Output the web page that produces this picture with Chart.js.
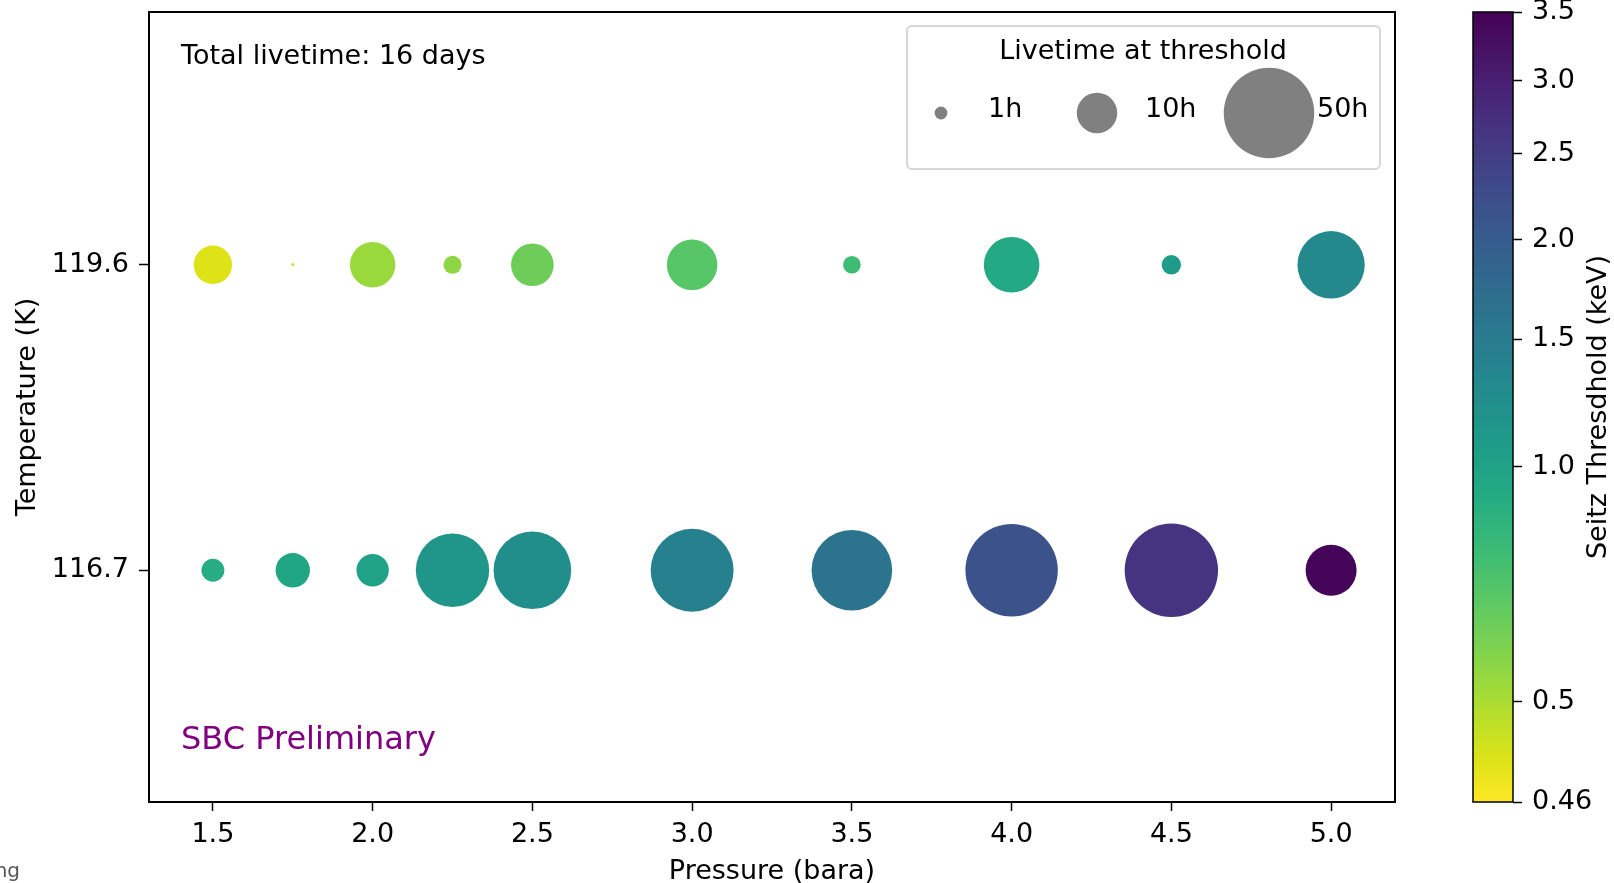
<!DOCTYPE html>
<html>
<head>
<meta charset="utf-8">
<script src="https://cdn.jsdelivr.net/npm/chart.js@4/dist/chart.umd.min.js"></script>
<style>
  body { margin: 0; background: #fff; }
  #wrap { position: relative; width: 1614px; height: 883px; overflow: hidden; }
  canvas { position: absolute; top: 0; }
</style>
</head>
<body>
<div id="wrap">
  <canvas id="main" width="1614" height="883" style="left:0"></canvas>
  <canvas id="cbar" width="174" height="883" style="left:1440px"></canvas>
</div>
<script>
// data
const pressures = [1.5, 1.75, 2.0, 2.25, 2.5, 3.0, 3.5, 4.0, 4.5, 5.0]
const temps = [119.6, 116.7]
// livetime at threshold (hours)
const lifeHot = [9.0, 0.05, 12.6, 2.0, 11.1, 15.6, 1.9, 18.9, 2.3, 27.7]
const lifeCold = [3.2, 7.2, 6.4, 32.9, 36.8, 42.0, 39.7, 52.1, 53.2, 15.9]
// Seitz threshold (keV)
const thrHot = [0.476, 0.49, 0.54, 0.57, 0.66, 0.73, 0.815, 0.95, 1.08, 1.33]
const thrCold = [0.925, 0.975, 1.0, 1.17, 1.27, 1.44, 1.62, 2.17, 2.66, 3.44]

const xTicks = [1.5, 2.0, 2.5, 3.0, 3.5, 4.0, 4.5, 5.0]
const yTicks = [119.6, 116.7]
const legendHours = [1, 10, 50]
const legendLabels = ['1h', '10h', '50h']

// colour bar: tick values and where they sit on the bar (0 = bottom, 1 = top)
const cbTickValues = [0.46, 0.5, 1.0, 1.5, 2.0, 2.5, 3.0, 3.5]
const cbTickLabels = ['0.46', '0.5', '1.0', '1.5', '2.0', '2.5', '3.0', '3.5']
const cbNormKnots = [0, 0.127, 0.4245, 0.5855, 0.712, 0.8205, 0.913, 1]

Chart.defaults.font.family = "'DejaVu Sans', sans-serif"
Chart.defaults.color = '#000'

const viridisStops = ['#440154','#471365','#482475','#463480','#414487','#3b528b','#355f8d','#2f6c8e','#2a788e','#25848e','#21918c','#1e9c89','#22a884','#2fb47c','#44bf70','#5ec962','#7ad151','#9bd93c','#bddf26','#dfe318','#fde725']

function hexRgb(h) {
  return [parseInt(h.slice(1, 3), 16), parseInt(h.slice(3, 5), 16), parseInt(h.slice(5, 7), 16)]
}
function viridis(t) {
  t = Math.min(1, Math.max(0, t))
  let f = t * (viridisStops.length - 1)
  let i = Math.min(Math.floor(f), viridisStops.length - 2)
  let u = f - i
  let a = hexRgb(viridisStops[i]), b = hexRgb(viridisStops[i + 1])
  let c = a.map((v, k) => Math.round(v + (b[k] - v) * u))
  return `rgb(${c[0]},${c[1]},${c[2]})`
}
// value -> position on bar
function norm(v) {
  if (v <= cbTickValues[0]) return 0
  for (let i = 1; i < cbTickValues.length; i++) {
    if (v <= cbTickValues[i]) {
      let u = (v - cbTickValues[i - 1]) / (cbTickValues[i] - cbTickValues[i - 1])
      return cbNormKnots[i - 1] + u * (cbNormKnots[i] - cbNormKnots[i - 1])
    }
  }
  return 1
}
// reversed viridis: low threshold = yellow
function thrColor(v) { return viridis(1 - norm(v)) }
// marker area proportional to livetime
function radiusFor(h) { return 6.4 * Math.sqrt(h) }

function rowData(temp, life) {
  return pressures.map((p, i) => ({ x: p, y: temp, r: radiusFor(life[i]) }))
}

// no extra room for labels hanging past the ends
function noOverflow(s) { s.paddingTop = 0; s.paddingBottom = 0; s.paddingLeft = 0; s.paddingRight = 0 }

const framePlugin = {
  id: 'frame',
  afterDraw(chart) {
    const { ctx, chartArea: a } = chart
    ctx.save()
    ctx.strokeStyle = '#000'
    ctx.lineWidth = 2
    ctx.strokeRect(a.left, a.top, a.right - a.left, a.bottom - a.top)

    ctx.textBaseline = 'middle'
    ctx.textAlign = 'left'
    ctx.fillStyle = '#000'
    ctx.font = "27px 'DejaVu Sans'"
    ctx.fillText('Total livetime: 16 days', 181, 57)
    ctx.fillStyle = '#800080'
    ctx.font = "32px 'DejaVu Sans'"
    ctx.fillText('SBC Preliminary', 181, 741)
    ctx.fillStyle = '#555'
    ctx.font = "20px 'DejaVu Sans'"
    ctx.textAlign = 'right'
    ctx.fillText('ng', 20, 872)

    // size legend
    const bx = 907, by = 26, bw = 473, bh = 143
    ctx.beginPath()
    ctx.roundRect(bx, by, bw, bh, 5)
    ctx.fillStyle = 'rgba(255,255,255,0.8)'
    ctx.fill()
    ctx.strokeStyle = '#d6d6d6'
    ctx.lineWidth = 2
    ctx.stroke()
    ctx.fillStyle = '#000'
    ctx.font = "27px 'DejaVu Sans'"
    ctx.textAlign = 'center'
    ctx.fillText('Livetime at threshold', 1143, 52)
    const cx = [941, 1097, 1269]
    const tx = [988, 1145, 1317]
    legendHours.forEach((h, i) => {
      ctx.beginPath()
      ctx.arc(cx[i], 113, radiusFor(h), 0, Math.PI * 2)
      ctx.fillStyle = '#808080'
      ctx.fill()
      ctx.fillStyle = '#000'
      ctx.textAlign = 'left'
      ctx.fillText(legendLabels[i], tx[i], 110)
    })
    ctx.restore()
  }
}

new Chart(document.getElementById('main'), {
  type: 'bubble',
  data: {
    datasets: [
      {
        label: 'T = 119.6 K',
        data: rowData(temps[0], lifeHot),
        backgroundColor: thrHot.map(thrColor),
        borderWidth: 0
      },
      {
        label: 'T = 116.7 K',
        data: rowData(temps[1], lifeCold),
        backgroundColor: thrCold.map(thrColor),
        borderWidth: 0
      }
    ]
  },
  options: {
    responsive: false,
    animation: false,
    layout: { autoPadding: false, padding: { left: 0, top: 12, right: 219, bottom: 0 } },
    plugins: { legend: { display: false }, tooltip: { enabled: false } },
    scales: {
      x: {
        type: 'linear',
        min: 1.3,
        max: 5.2,
        afterBuildTicks: s => { s.ticks = xTicks.map(v => ({ value: v })) },
        afterFit: s => { s.height = 81; noOverflow(s) },
        ticks: { font: { size: 27 }, padding: 8, autoSkip: false, maxRotation: 0, callback: v => v.toFixed(1) },
        grid: { drawOnChartArea: false, drawTicks: true, tickLength: 9, tickColor: '#000', tickWidth: 1.5 },
        border: { color: '#000', width: 2 },
        title: { display: true, text: 'Pressure (bara)', font: { size: 27, lineHeight: 0.8 }, padding: { top: 0, bottom: 0 } }
      },
      y: {
        type: 'linear',
        min: 114.5,
        max: 122,
        afterBuildTicks: s => { s.ticks = yTicks.map(v => ({ value: v })) },
        afterFit: s => { s.width = 149; noOverflow(s) },
        ticks: { font: { size: 27 }, padding: 10, autoSkip: false, callback: v => v.toFixed(1) },
        grid: { drawOnChartArea: false, drawTicks: true, tickLength: 10, tickColor: '#000', tickWidth: 1.5 },
        border: { color: '#000', width: 2 },
        title: { display: true, text: 'Temperature (K)', font: { size: 27 }, padding: { top: 12, bottom: 0 } }
      }
    }
  },
  plugins: [framePlugin]
})

// colour bar as its own small chart
const gradientPlugin = {
  id: 'gradient',
  beforeDatasetsDraw(chart) {
    const { ctx, chartArea: a } = chart
    const ys = chart.scales.y
    ctx.save()
    for (let py = Math.floor(a.top); py < Math.ceil(a.bottom); py++) {
      ctx.fillStyle = viridis(1 - ys.getValueForPixel(py + 0.5))
      ctx.fillRect(a.left, py, a.right - a.left, 1)
    }
    ctx.strokeStyle = '#000'
    ctx.lineWidth = 1.5
    ctx.strokeRect(a.left, a.top, a.right - a.left, a.bottom - a.top)
    ctx.restore()
  },
  afterDraw(chart) {
    const { ctx, chartArea: a } = chart
    ctx.save()
    ctx.translate(159, (a.top + a.bottom) / 2)
    ctx.rotate(-Math.PI / 2)
    ctx.textAlign = 'center'
    ctx.textBaseline = 'middle'
    ctx.fillStyle = '#000'
    ctx.font = "27px 'DejaVu Sans'"
    ctx.fillText('Seitz Thresdhold (keV)', 0, 0)
    ctx.restore()
  }
}

new Chart(document.getElementById('cbar'), {
  type: 'scatter',
  data: { datasets: [] },
  options: {
    responsive: false,
    animation: false,
    layout: { autoPadding: false, padding: { left: 33, top: 12, right: 0, bottom: 81 } },
    plugins: { legend: { display: false }, tooltip: { enabled: false } },
    scales: {
      x: { display: false, min: 0, max: 1 },
      y: {
        position: 'right',
        min: 0,
        max: 1,
        afterBuildTicks: s => { s.ticks = cbNormKnots.map(v => ({ value: v })) },
        afterFit: s => { s.width = 101; noOverflow(s) },
        ticks: { font: { size: 27 }, padding: 10, autoSkip: false, callback: (v, i) => cbTickLabels[i] },
        grid: { drawOnChartArea: false, drawTicks: true, tickLength: 9, tickColor: '#000', tickWidth: 1.5 },
        border: { display: false }
      }
    }
  },
  plugins: [gradientPlugin]
})
</script>
</body>
</html>
